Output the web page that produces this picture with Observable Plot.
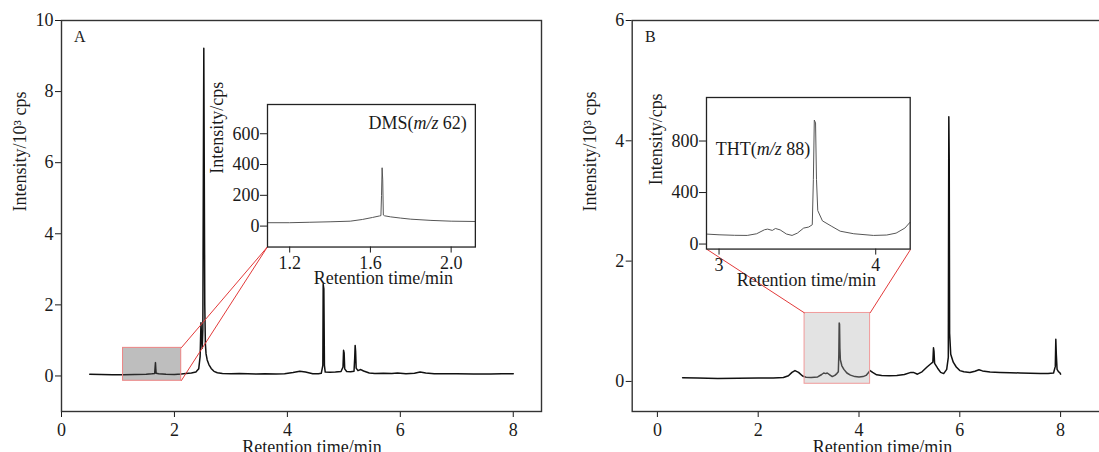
<!DOCTYPE html>
<html><head><meta charset="utf-8">
<script src="https://cdn.jsdelivr.net/npm/d3@7"></script>
<script src="https://cdn.jsdelivr.net/npm/@observablehq/plot@0.6"></script>
<style>
html,body{margin:0;padding:0;background:#fff;overflow:hidden}
#wrap{position:relative;width:1099px;height:452px;overflow:hidden;background:#fff}
#wrap > div{position:absolute}
#wrap svg{overflow:visible;max-width:none !important}
</style></head>
<body><div id="wrap"></div>
<script>
// ---------- data ----------
// Panel A: full chromatogram (intensity in 10^3 cps)
const timeA = [0.50,0.70,0.90,1.10,1.30,1.50,1.60,1.650,1.658,1.664,1.670,1.676,1.72,1.85,2.00,2.12,2.20,2.30,2.38,2.43,2.455,2.470,2.480,2.492,2.503,2.512,2.520,2.528,2.537,2.548,2.56,2.58,2.61,2.65,2.70,2.76,2.85,3.00,3.15,3.30,3.45,3.60,3.80,3.95,4.10,4.22,4.32,4.45,4.55,4.60,4.628,4.634,4.646,4.656,4.67,4.75,4.85,4.95,4.985,4.995,5.005,5.015,5.05,5.12,5.18,5.192,5.200,5.208,5.218,5.25,5.30,5.35,5.45,5.55,5.70,5.85,5.95,6.10,6.25,6.35,6.45,6.60,6.80,7.00,7.30,7.60,7.80,8.00];
const intensityA = [0.045,0.040,0.035,0.035,0.040,0.045,0.060,0.070,0.250,0.375,0.200,0.075,0.060,0.045,0.040,0.055,0.070,0.085,0.110,0.200,0.55,1.50,1.10,0.78,1.30,5.70,9.22,5.80,2.00,0.90,0.62,0.45,0.32,0.21,0.13,0.09,0.07,0.065,0.070,0.060,0.055,0.060,0.055,0.065,0.095,0.130,0.110,0.065,0.060,0.075,0.30,2.58,2.45,0.30,0.110,0.105,0.110,0.125,0.25,0.72,0.65,0.20,0.125,0.120,0.130,0.50,0.86,0.70,0.22,0.150,0.180,0.140,0.085,0.070,0.075,0.070,0.080,0.065,0.075,0.110,0.085,0.065,0.060,0.060,0.055,0.055,0.060,0.060];
// Panel A inset: DMS (m/z 62), intensity in cps
const timeDMS = [1.090,1.200,1.300,1.400,1.500,1.560,1.610,1.645,1.652,1.655,1.658,1.661,1.664,1.670,1.700,1.750,1.800,1.900,2.000,2.120];
const intensityDMS = [22,22,25,28,32,43,56,66,68,200,379,300,72,67,60,52,45,37,32,30];
// Panel B: full chromatogram (intensity in 10^3 cps)
const timeB = [0.50,0.80,1.20,1.60,2.00,2.30,2.50,2.60,2.67,2.73,2.80,2.88,2.95,3.05,3.18,3.26,3.30,3.34,3.37,3.42,3.47,3.52,3.56,3.59,3.600,3.607,3.614,3.621,3.630,3.66,3.70,3.76,3.83,3.92,4.00,4.08,4.14,4.19,4.22,4.27,4.35,4.45,4.60,4.75,4.90,5.03,5.08,5.16,5.25,5.35,5.42,5.465,5.478,5.488,5.50,5.56,5.62,5.68,5.74,5.772,5.782,5.790,5.798,5.82,5.87,5.93,6.00,6.08,6.20,6.30,6.38,6.45,6.60,6.80,7.00,7.20,7.40,7.60,7.75,7.86,7.895,7.905,7.915,7.93,7.96,7.98,8.00];
const intensityB = [0.060,0.055,0.050,0.052,0.055,0.058,0.065,0.095,0.150,0.180,0.150,0.090,0.070,0.065,0.075,0.115,0.140,0.130,0.140,0.110,0.080,0.100,0.130,0.160,0.45,0.97,0.95,0.55,0.36,0.26,0.20,0.14,0.105,0.080,0.075,0.080,0.100,0.150,0.180,0.150,0.110,0.100,0.095,0.100,0.115,0.150,0.150,0.120,0.160,0.240,0.290,0.32,0.56,0.50,0.30,0.22,0.15,0.13,0.20,0.40,4.40,3.70,0.80,0.45,0.32,0.24,0.18,0.160,0.150,0.170,0.195,0.175,0.155,0.150,0.145,0.140,0.135,0.130,0.130,0.140,0.25,0.70,0.45,0.20,0.16,0.15,0.12];
// Panel B inset: THT (m/z 88), intensity in cps
const timeTHT = [2.926,3.000,3.100,3.180,3.240,3.290,3.310,3.340,3.360,3.390,3.430,3.466,3.500,3.540,3.572,3.595,3.602,3.608,3.616,3.622,3.630,3.660,3.720,3.773,3.860,3.985,4.070,4.130,4.186,4.218];
const intensityTHT = [77,72,68,67,80,111,116,106,121,110,78,67,85,124,132,150,500,963,940,500,260,180,137,100,80,67,70,85,124,168];

const xTicksMain = [0,2,4,6,8];
const yTicksA = [0,2,4,6,8,10];
const yTicksB = [0,2,4,6];
const xTicksDMS = [1.2,1.6,2.0];
const yTicksDMS = [0,200,400,600];
const xTicksTHT = [3,4];
const yTicksTHT = [0,400,800];
const panelLetters = ["A","B"];
const insetNames = [["DMS(","m/z"," 62)"],["THT(","m/z"," 88)"]];
const yLabelMain = "Intensity/10³ cps";
const yLabelInset = "Intensity/cps";
const xLabel = "Retention time/min";

// ---------- layout ----------
const H = 452;
const FONT = '"Liberation Serif","Times New Roman",serif';
const FS = "18px";
const wrap = document.getElementById("wrap");
const rows = (ts, vs) => ts.map((t,i) => ({t, v: vs[i]}));

const cfgA = {
  left: 0, width: 560, ml: 61, mr: 19, xDomain: [0, 8.5], yDomain: [-1, 10], yTicks: yTicksA,
  data: rows(timeA, intensityA), letter: panelLetters[0], letterDx: 12.5, xLabDx: 10.5, yLabDx: -41,
  zoom: {x: [1.09, 2.12], y: [-136, 790]},
  place: {x1: 3.646, x2: 7.327, y1: 3.63, y2: 7.64},
  boxFill: "#555", boxOpacity: 0.38, boxStroke: "#ec8484",
  linkCorners: [["x2","y2","x1","y1"],["x2","y1","x1","y1"]],
  inset: {data: rows(timeDMS, intensityDMS), xTicks: xTicksDMS, yTicks: yTicksDMS, fmt: d3.format(".1f"),
          name: insetNames[0], nameAnchor: "top-right", nameDx: -8.5, nameDy: 25, yLabDy: -2, xLabDx: 12}
};
const cfgB = {
  left: 570, width: 560, ml: 61.7, mr: 19.5, xDomain: [-0.5, 9], yDomain: [-0.5, 6], yTicks: yTicksB,
  data: rows(timeB, intensityB), letter: panelLetters[1], letterDx: 12.8, xLabDx: 11, yLabDx: -41.7,
  zoom: {x: [2.92, 4.22], y: [-39, 1138]},
  place: {x1: 0.982, x2: 5.024, y1: 2.196, y2: 4.716},
  boxFill: "#b0b0b0", boxOpacity: 0.35, boxStroke: "#f09a9a",
  linkCorners: [["x1","y2","x1","y1"],["x2","y2","x2","y1"]],
  inset: {data: rows(timeTHT, intensityTHT), xTicks: xTicksTHT, yTicks: yTicksTHT, fmt: d => String(d),
          name: insetNames[1], nameAnchor: "top-left", nameDx: 9.3, nameDy: 58, yLabDy: 12, xLabDx: -2}
};

function italicize(svg, parts) {
  const full = parts.join("");
  d3.select(svg).selectAll("text").filter(function(){ return this.textContent === full; }).each(function(){
    const t = d3.select(this); t.text(null);
    t.append("tspan").text(parts[0]);
    t.append("tspan").attr("font-style","italic").text(parts[1]);
    t.append("tspan").text(parts[2]);
  });
}

function mount(svg, left, top, width, height) {
  const d = document.createElement("div");
  d.style.left = left + "px"; d.style.top = top + "px";
  d.style.width = width + "px"; d.style.height = height + "px";
  svg.style.maxWidth = "none"; svg.style.width = width + "px"; svg.style.height = height + "px";
  d.appendChild(svg); wrap.appendChild(d);
}

function panel(c) {
  const box = {x1: c.zoom.x[0], x2: c.zoom.x[1], y1: c.zoom.y[0]/1000, y2: c.zoom.y[1]/1000};
  const links = c.linkCorners.map(([bx,by,ix,iy]) => ({x1: box[bx], y1: box[by], x2: c.place[ix], y2: c.place[iy]}));
  const main = Plot.plot({
    width: c.width, height: H, marginLeft: c.ml, marginRight: c.mr, marginTop: 20, marginBottom: 41,
    x: {domain: c.xDomain}, y: {domain: c.yDomain},
    style: {fontFamily: FONT, fontSize: FS, color: "#1a1a1a", background: "transparent", overflow: "visible"},
    marks: [
      Plot.axisX({ticks: xTicksMain, tickSize: 6, tickPadding: 6, label: null, tickFormat: d => String(d)}),
      Plot.axisY({ticks: c.yTicks, tickSize: 6, tickPadding: 2, label: null, tickFormat: d => String(d)}),
      Plot.line(c.data, {x: "t", y: "v", stroke: "#111", strokeWidth: 1.5}),
      Plot.rect([box], {x1: "x1", x2: "x2", y1: "y1", y2: "y2", fill: c.boxFill, fillOpacity: c.boxOpacity, stroke: c.boxStroke, strokeWidth: 1}),
      Plot.link(links, {x1: "x1", y1: "y1", x2: "x2", y2: "y2", stroke: "#e23a3a", strokeWidth: 1}),
      Plot.frame({stroke: "#333", strokeWidth: 1.4}),
      Plot.text([c.letter], {text: d => d, frameAnchor: "top-left", textAnchor: "start", lineAnchor: "bottom", dx: c.letterDx, dy: 21, fontSize: 16}),
      Plot.text([yLabelMain], {text: d => d, frameAnchor: "left", rotate: -90, dx: c.yLabDx, dy: -4.5}),
      Plot.text([xLabel], {text: d => d, frameAnchor: "bottom", lineAnchor: "bottom", dx: c.xLabDx, dy: 41})
    ]
  });
  mount(main, c.left, 0, c.width, H);

  // inset placed through the main panel's scales
  const sx = main.scale("x"), sy = main.scale("y");
  const px1 = c.left + sx.apply(c.place.x1), px2 = c.left + sx.apply(c.place.x2);
  const pyT = sy.apply(c.place.y2), pyB = sy.apply(c.place.y1);
  const iml = 64, imr = 4, imt = 4, imb = 50;
  const ins = c.inset;
  const iw = (px2 - px1) + iml + imr, ih = (pyB - pyT) + imt + imb;
  const inset = Plot.plot({
    width: iw, height: ih,
    marginLeft: iml, marginRight: imr, marginTop: imt, marginBottom: imb,
    x: {domain: c.zoom.x}, y: {domain: c.zoom.y},
    style: {fontFamily: FONT, fontSize: FS, color: "#1a1a1a", background: "transparent", overflow: "visible"},
    marks: [
      Plot.axisX({ticks: ins.xTicks, tickSize: 6, tickPadding: 3, label: null, tickFormat: ins.fmt}),
      Plot.axisY({ticks: ins.yTicks, tickSize: 7, tickPadding: 1, label: null, tickFormat: d => String(d)}),
      Plot.line(ins.data, {x: "t", y: "v", stroke: "#555", strokeWidth: 1}),
      Plot.frame({stroke: "#222", strokeWidth: 1.3}),
      Plot.text([ins.name.join("")], {text: d => d, frameAnchor: ins.nameAnchor, textAnchor: ins.nameAnchor === "top-right" ? "end" : "start", lineAnchor: "bottom", dx: ins.nameDx, dy: ins.nameDy}),
      Plot.text([yLabelInset], {text: d => d, frameAnchor: "left", rotate: -90, dx: -50, dy: ins.yLabDy}),
      Plot.text([xLabel], {text: d => d, frameAnchor: "bottom", lineAnchor: "bottom", dx: ins.xLabDx, dy: 37})
    ]
  });
  italicize(inset, ins.name);
  mount(inset, px1 - iml, pyT - imt, iw, ih);
}
panel(cfgA);
panel(cfgB);
</script>
</body></html>
